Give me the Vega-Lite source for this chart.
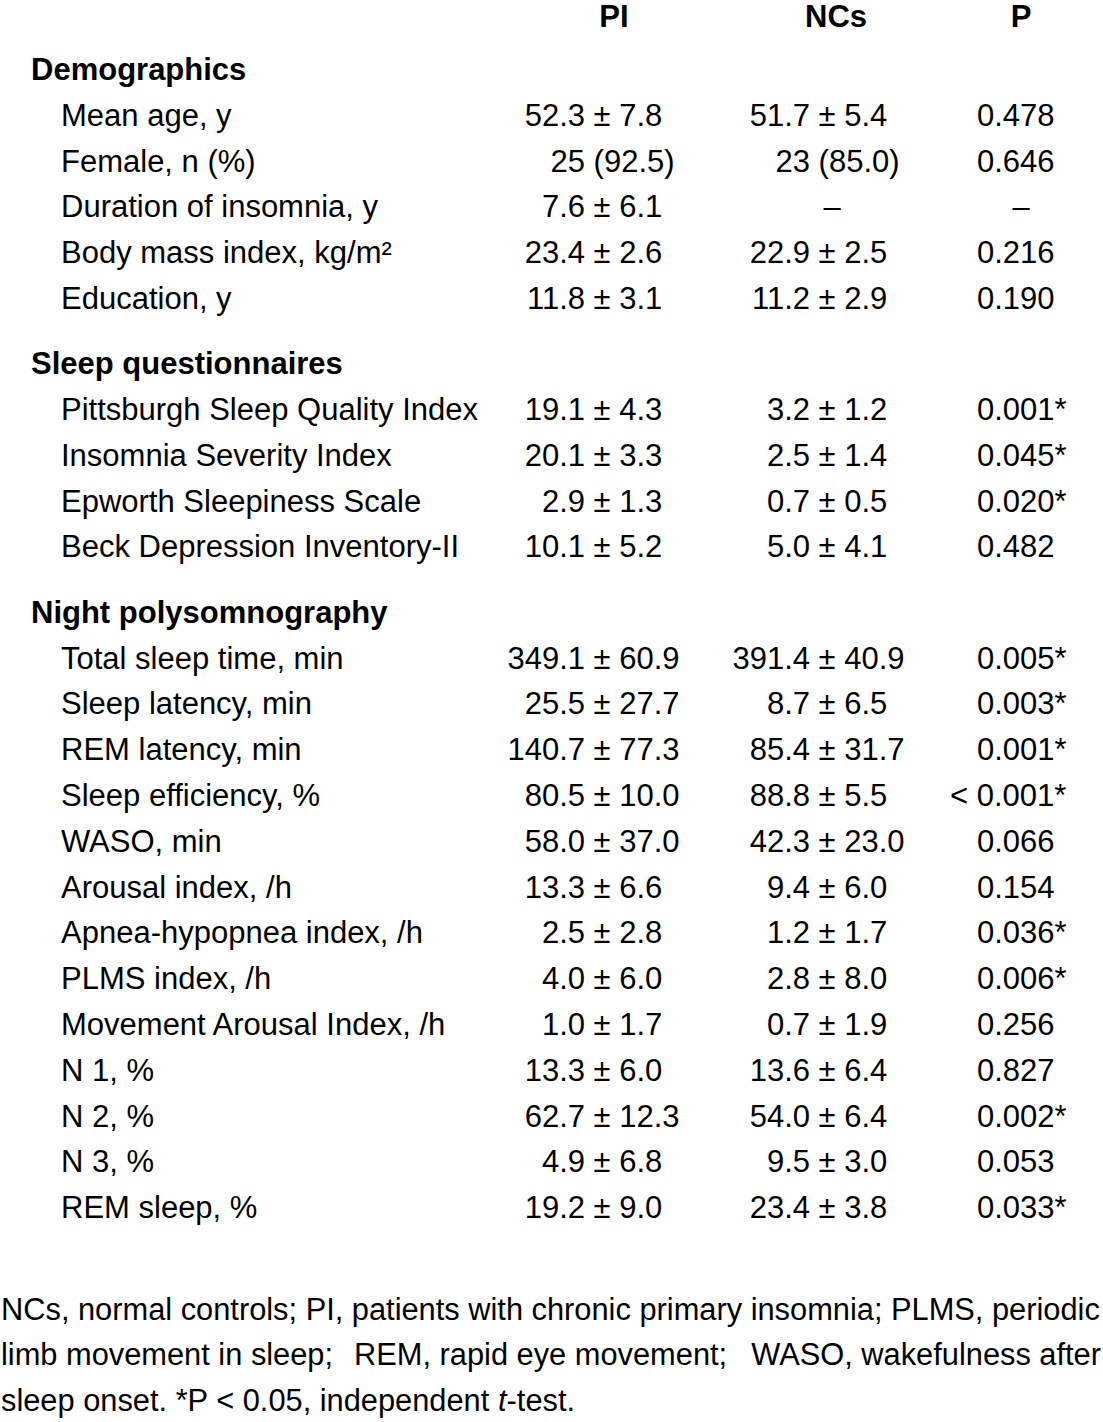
{
  "$schema": "https://vega.github.io/schema/vega-lite/v6.json",
  "width": 1103,
  "height": 1422,
  "autosize": {"type": "fit", "contains": "padding"},
  "padding": 0,
  "background": "white",
  "config": {
    "view": {"stroke": null},
    "text": {"font": "Liberation Sans", "fontSize": 31, "color": "#000000", "baseline": "alphabetic"}
  },
  "datasets": {
    "table": [
      {"block": 1, "line": 1, "kind": "head", "label": "Demographics", "pi": "", "nc": "", "p": ""},
      {"block": 1, "line": 2, "kind": "item", "label": "Mean age, y", "pi": "52.3 ± 7.8", "nc": "51.7 ± 5.4", "p": "0.478"},
      {"block": 1, "line": 3, "kind": "item", "label": "Female, n (%)", "pi": "25 (92.5)", "nc": "23 (85.0)", "p": "0.646"},
      {"block": 1, "line": 4, "kind": "item", "label": "Duration of insomnia, y", "pi": "7.6 ± 6.1", "nc": "–", "p": "–"},
      {"block": 1, "line": 5, "kind": "item", "label": "Body mass index, kg/m²", "pi": "23.4 ± 2.6", "nc": "22.9 ± 2.5", "p": "0.216"},
      {"block": 1, "line": 6, "kind": "item", "label": "Education, y", "pi": "11.8 ± 3.1", "nc": "11.2 ± 2.9", "p": "0.190"},
      {"block": 2, "line": 7, "kind": "head", "label": "Sleep questionnaires", "pi": "", "nc": "", "p": ""},
      {"block": 2, "line": 8, "kind": "item", "label": "Pittsburgh Sleep Quality Index", "pi": "19.1 ± 4.3", "nc": "3.2 ± 1.2", "p": "0.001*"},
      {"block": 2, "line": 9, "kind": "item", "label": "Insomnia Severity Index", "pi": "20.1 ± 3.3", "nc": "2.5 ± 1.4", "p": "0.045*"},
      {"block": 2, "line": 10, "kind": "item", "label": "Epworth Sleepiness Scale", "pi": "2.9 ± 1.3", "nc": "0.7 ± 0.5", "p": "0.020*"},
      {"block": 2, "line": 11, "kind": "item", "label": "Beck Depression Inventory-II", "pi": "10.1 ± 5.2", "nc": "5.0 ± 4.1", "p": "0.482"},
      {"block": 3, "line": 12, "kind": "head", "label": "Night polysomnography", "pi": "", "nc": "", "p": ""},
      {"block": 3, "line": 13, "kind": "item", "label": "Total sleep time, min", "pi": "349.1 ± 60.9", "nc": "391.4 ± 40.9", "p": "0.005*"},
      {"block": 3, "line": 14, "kind": "item", "label": "Sleep latency, min", "pi": "25.5 ± 27.7", "nc": "8.7 ± 6.5", "p": "0.003*"},
      {"block": 3, "line": 15, "kind": "item", "label": "REM latency, min", "pi": "140.7 ± 77.3", "nc": "85.4 ± 31.7", "p": "0.001*"},
      {"block": 3, "line": 16, "kind": "item", "label": "Sleep efficiency, %", "pi": "80.5 ± 10.0", "nc": "88.8 ± 5.5", "p": "< 0.001*"},
      {"block": 3, "line": 17, "kind": "item", "label": "WASO, min", "pi": "58.0 ± 37.0", "nc": "42.3 ± 23.0", "p": "0.066"},
      {"block": 3, "line": 18, "kind": "item", "label": "Arousal index, /h", "pi": "13.3 ± 6.6", "nc": "9.4 ± 6.0", "p": "0.154"},
      {"block": 3, "line": 19, "kind": "item", "label": "Apnea-hypopnea index, /h", "pi": "2.5 ± 2.8", "nc": "1.2 ± 1.7", "p": "0.036*"},
      {"block": 3, "line": 20, "kind": "item", "label": "PLMS index, /h", "pi": "4.0 ± 6.0", "nc": "2.8 ± 8.0", "p": "0.006*"},
      {"block": 3, "line": 21, "kind": "item", "label": "Movement Arousal Index, /h", "pi": "1.0 ± 1.7", "nc": "0.7 ± 1.9", "p": "0.256"},
      {"block": 3, "line": 22, "kind": "item", "label": "N 1, %", "pi": "13.3 ± 6.0", "nc": "13.6 ± 6.4", "p": "0.827"},
      {"block": 3, "line": 23, "kind": "item", "label": "N 2, %", "pi": "62.7 ± 12.3", "nc": "54.0 ± 6.4", "p": "0.002*"},
      {"block": 3, "line": 24, "kind": "item", "label": "N 3, %", "pi": "4.9 ± 6.8", "nc": "9.5 ± 3.0", "p": "0.053"},
      {"block": 3, "line": 25, "kind": "item", "label": "REM sleep, %", "pi": "19.2 ± 9.0", "nc": "23.4 ± 3.8", "p": "0.033*"}
    ],
    "heads": [{"col": "PI"}, {"col": "NCs"}, {"col": "P"}],
    "notes": [
      {"n": 1, "seg": "a", "text": "NCs, normal controls; PI, patients with chronic primary insomnia; PLMS, periodic"},
      {"n": 2, "seg": "a", "text": "limb movement in sleep;"},
      {"n": 2, "seg": "m", "text": "REM, rapid eye movement;"},
      {"n": 2, "seg": "z", "text": "WASO, wakefulness after"},
      {"n": 3, "seg": "a", "text": "sleep onset. *P < 0.05, independent"},
      {"n": 3, "seg": "t", "text": "t"},
      {"n": 3, "seg": "c", "text": "-test."}
    ]
  },
  "layer": [
    {
      "data": {"name": "table"},
      "transform": [
        {"filter": "datum.kind == 'head'"},
        {"calculate": "datum.line + 0.425 * datum.block", "as": "pos"}
      ],
      "mark": {"type": "text", "align": "left", "fontWeight": "bold"},
      "encoding": {
        "x": {"datum": 31, "type": "quantitative", "axis": null,
          "scale": {"domain": [0, 1103], "nice": false, "zero": false}},
        "y": {"field": "pos", "type": "quantitative", "axis": null,
          "scale": {"domain": [-0.3217, 30.726], "reverse": true, "nice": false, "zero": false}},
        "text": {"field": "label"}
      }
    },
    {
      "data": {"name": "table"},
      "transform": [
        {"filter": "datum.kind == 'item'"},
        {"calculate": "datum.line + 0.425 * datum.block", "as": "pos"}
      ],
      "mark": {"type": "text", "align": "left"},
      "encoding": {
        "x": {"datum": 61, "type": "quantitative"},
        "y": {"field": "pos", "type": "quantitative"},
        "text": {"field": "label"}
      }
    },
    {
      "data": {"name": "table"},
      "transform": [
        {"filter": "datum.kind == 'item' && indexof(datum.pi, ' ') > 0"},
        {"calculate": "datum.line + 0.425 * datum.block", "as": "pos"},
        {"calculate": "substring(datum.pi, 0, indexof(datum.pi, ' '))", "as": "a"}
      ],
      "mark": {"type": "text", "align": "right"},
      "encoding": {
        "x": {"datum": 585, "type": "quantitative"},
        "y": {"field": "pos", "type": "quantitative"},
        "text": {"field": "a"}
      }
    },
    {
      "data": {"name": "table"},
      "transform": [
        {"filter": "datum.kind == 'item' && indexof(datum.pi, ' ') > 0"},
        {"calculate": "datum.line + 0.425 * datum.block", "as": "pos"},
        {"calculate": "substring(datum.pi, indexof(datum.pi, ' ') + 1)", "as": "b"}
      ],
      "mark": {"type": "text", "align": "left"},
      "encoding": {
        "x": {"datum": 593.6, "type": "quantitative"},
        "y": {"field": "pos", "type": "quantitative"},
        "text": {"field": "b"}
      }
    },
    {
      "data": {"name": "table"},
      "transform": [
        {"filter": "datum.kind == 'item' && indexof(datum.nc, ' ') > 0"},
        {"calculate": "datum.line + 0.425 * datum.block", "as": "pos"},
        {"calculate": "substring(datum.nc, 0, indexof(datum.nc, ' '))", "as": "a"}
      ],
      "mark": {"type": "text", "align": "right"},
      "encoding": {
        "x": {"datum": 810, "type": "quantitative"},
        "y": {"field": "pos", "type": "quantitative"},
        "text": {"field": "a"}
      }
    },
    {
      "data": {"name": "table"},
      "transform": [
        {"filter": "datum.kind == 'item' && indexof(datum.nc, ' ') > 0"},
        {"calculate": "datum.line + 0.425 * datum.block", "as": "pos"},
        {"calculate": "substring(datum.nc, indexof(datum.nc, ' ') + 1)", "as": "b"}
      ],
      "mark": {"type": "text", "align": "left"},
      "encoding": {
        "x": {"datum": 818.6, "type": "quantitative"},
        "y": {"field": "pos", "type": "quantitative"},
        "text": {"field": "b"}
      }
    },
    {
      "data": {"name": "table"},
      "transform": [
        {"filter": "datum.kind == 'item' && indexof(datum.nc, ' ') < 0"},
        {"calculate": "datum.line + 0.425 * datum.block", "as": "pos"}
      ],
      "mark": {"type": "text", "align": "center"},
      "encoding": {
        "x": {"datum": 832, "type": "quantitative"},
        "y": {"field": "pos", "type": "quantitative"},
        "text": {"field": "nc"}
      }
    },
    {
      "data": {"name": "table"},
      "transform": [
        {"filter": "datum.kind == 'item' && datum.p != '–' && !test(/^</, datum.p)"},
        {"calculate": "datum.line + 0.425 * datum.block", "as": "pos"}
      ],
      "mark": {"type": "text", "align": "left"},
      "encoding": {
        "x": {"datum": 977, "type": "quantitative"},
        "y": {"field": "pos", "type": "quantitative"},
        "text": {"field": "p"}
      }
    },
    {
      "data": {"name": "table"},
      "transform": [
        {"filter": "datum.kind == 'item' && test(/^</, datum.p)"},
        {"calculate": "datum.line + 0.425 * datum.block", "as": "pos"}
      ],
      "mark": {"type": "text", "align": "left"},
      "encoding": {
        "x": {"datum": 950, "type": "quantitative"},
        "y": {"field": "pos", "type": "quantitative"},
        "text": {"field": "p"}
      }
    },
    {
      "data": {"name": "table"},
      "transform": [
        {"filter": "datum.kind == 'item' && datum.p == '–'"},
        {"calculate": "datum.line + 0.425 * datum.block", "as": "pos"}
      ],
      "mark": {"type": "text", "align": "center"},
      "encoding": {
        "x": {"datum": 1021, "type": "quantitative"},
        "y": {"field": "pos", "type": "quantitative"},
        "text": {"field": "p"}
      }
    },
    {
      "data": {"name": "heads"},
      "transform": [{"filter": "datum.col == 'PI'"}],
      "mark": {"type": "text", "align": "center", "fontWeight": "bold"},
      "encoding": {
        "x": {"datum": 614, "type": "quantitative"},
        "y": {"datum": 0.268, "type": "quantitative"},
        "text": {"field": "col"}
      }
    },
    {
      "data": {"name": "heads"},
      "transform": [{"filter": "datum.col == 'NCs'"}],
      "mark": {"type": "text", "align": "center", "fontWeight": "bold"},
      "encoding": {
        "x": {"datum": 836, "type": "quantitative"},
        "y": {"datum": 0.268, "type": "quantitative"},
        "text": {"field": "col"}
      }
    },
    {
      "data": {"name": "heads"},
      "transform": [{"filter": "datum.col == 'P'"}],
      "mark": {"type": "text", "align": "center", "fontWeight": "bold"},
      "encoding": {
        "x": {"datum": 1021, "type": "quantitative"},
        "y": {"datum": 0.268, "type": "quantitative"},
        "text": {"field": "col"}
      }
    },
    {
      "data": {"name": "notes"},
      "transform": [
        {"filter": "datum.seg == 'a'"},
        {"calculate": "27.52 + datum.n * 0.985", "as": "pos"}
      ],
      "mark": {"type": "text", "align": "left", "fontSize": 30.8},
      "encoding": {
        "x": {"datum": 1, "type": "quantitative"},
        "y": {"field": "pos", "type": "quantitative"},
        "text": {"field": "text"}
      }
    },
    {
      "data": {"name": "notes"},
      "transform": [
        {"filter": "datum.seg == 'm'"},
        {"calculate": "27.52 + datum.n * 0.985", "as": "pos"}
      ],
      "mark": {"type": "text", "align": "left", "fontSize": 30.8},
      "encoding": {
        "x": {"datum": 354, "type": "quantitative"},
        "y": {"field": "pos", "type": "quantitative"},
        "text": {"field": "text"}
      }
    },
    {
      "data": {"name": "notes"},
      "transform": [
        {"filter": "datum.seg == 'z'"},
        {"calculate": "27.52 + datum.n * 0.985", "as": "pos"}
      ],
      "mark": {"type": "text", "align": "right", "fontSize": 30.8},
      "encoding": {
        "x": {"datum": 1101, "type": "quantitative"},
        "y": {"field": "pos", "type": "quantitative"},
        "text": {"field": "text"}
      }
    },
    {
      "data": {"name": "notes"},
      "transform": [
        {"filter": "datum.seg == 't'"},
        {"calculate": "27.52 + datum.n * 0.985", "as": "pos"}
      ],
      "mark": {"type": "text", "align": "left", "fontSize": 30.8, "fontStyle": "italic"},
      "encoding": {
        "x": {"datum": 498, "type": "quantitative"},
        "y": {"field": "pos", "type": "quantitative"},
        "text": {"field": "text"}
      }
    },
    {
      "data": {"name": "notes"},
      "transform": [
        {"filter": "datum.seg == 'c'"},
        {"calculate": "27.52 + datum.n * 0.985", "as": "pos"}
      ],
      "mark": {"type": "text", "align": "left", "fontSize": 30.8},
      "encoding": {
        "x": {"datum": 506.6, "type": "quantitative"},
        "y": {"field": "pos", "type": "quantitative"},
        "text": {"field": "text"}
      }
    }
  ]
}
